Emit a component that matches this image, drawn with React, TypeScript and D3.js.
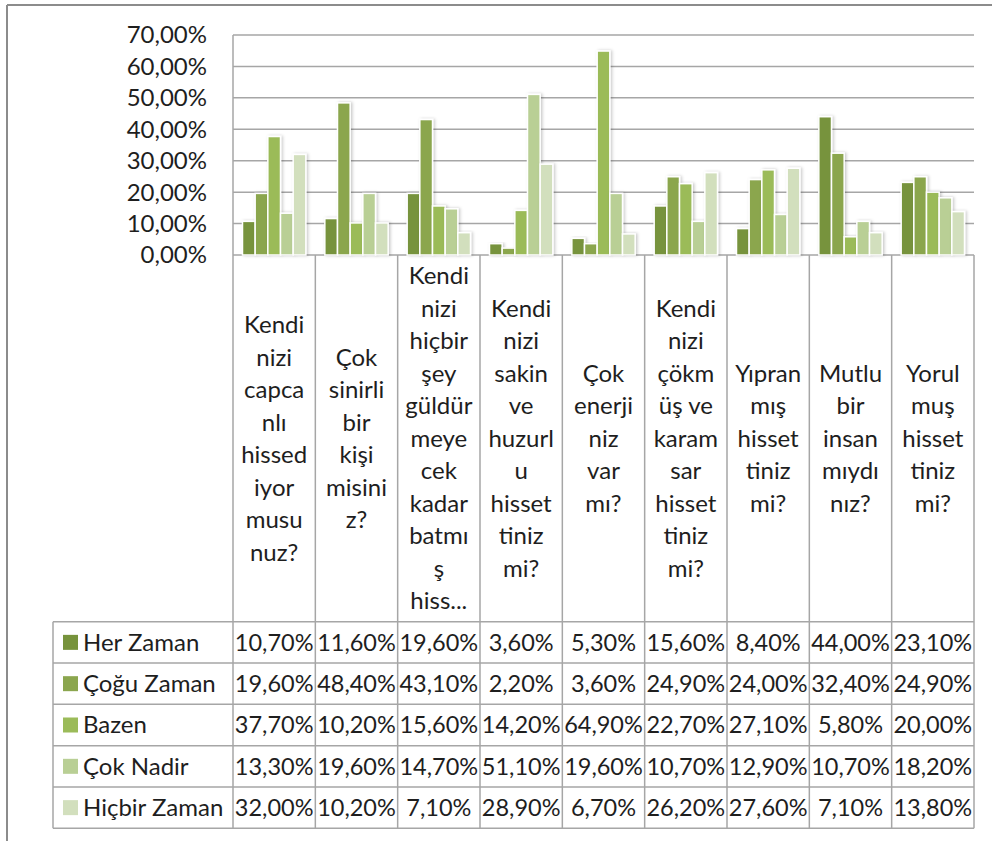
import * as d3 from 'd3';

// question texts, wrapped as in the source chart
const categoryLines: string[][] = [
  ['Kendi', 'nizi', 'capca', 'nlı', 'hissed', 'iyor', 'musu', 'nuz?'],
  ['Çok', 'sinirli', 'bir', 'kişi', 'misini', 'z?'],
  ['Kendi', 'nizi', 'hiçbir', 'şey', 'güldür', 'meye', 'cek', 'kadar', 'batmı', 'ş', 'hiss...'],
  ['Kendi', 'nizi', 'sakin', 've', 'huzurl', 'u', 'hisset', 'tiniz', 'mi?'],
  ['Çok', 'enerji', 'niz', 'var', 'mı?'],
  ['Kendi', 'nizi', 'çökm', 'üş ve', 'karam', 'sar', 'hisset', 'tiniz', 'mi?'],
  ['Yıpran', 'mış', 'hisset', 'tiniz', 'mi?'],
  ['Mutlu', 'bir', 'insan', 'mıydı', 'nız?'],
  ['Yorul', 'muş', 'hisset', 'tiniz', 'mi?'],
];

const seriesNames = ['Her Zaman', 'Çoğu Zaman', 'Bazen', 'Çok Nadir', 'Hiçbir Zaman'];
const seriesColors = ['#77933c', '#8ba64e', '#9bbb59', '#b9cf95', '#d2dfbd'];

const herZaman = [10.7, 11.6, 19.6, 3.6, 5.3, 15.6, 8.4, 44.0, 23.1];
const coguZaman = [19.6, 48.4, 43.1, 2.2, 3.6, 24.9, 24.0, 32.4, 24.9];
const bazen = [37.7, 10.2, 15.6, 14.2, 64.9, 22.7, 27.1, 5.8, 20.0];
const cokNadir = [13.3, 19.6, 14.7, 51.1, 19.6, 10.7, 12.9, 10.7, 18.2];
const hicbirZaman = [32.0, 10.2, 7.1, 28.9, 6.7, 26.2, 27.6, 7.1, 13.8];

const yTicks = [0, 10, 20, 30, 40, 50, 60, 70];

const series = [herZaman, coguZaman, bazen, cokNadir, hicbirZaman];

const W = 992;
const H = 841;
const FONT = 'Lato, Calibri, sans-serif';
const GRID = '#a6a6a6';
const TXT = '#1e1e1e';

const pct = (v: number) => v.toFixed(2).replace('.', ',') + '%';

export default function App() {
  const plotLeft = 233;
  const plotRight = 974;
  const plotTop = 35;
  const plotBottom = 255;
  const tableTop = 621.7;
  const tableBottom = 828.3;
  const tableLeft = 53;
  const rowH = (tableBottom - tableTop) / seriesNames.length;

  const cats = categoryLines.map((_, i) => String(i));
  const x = d3.scaleBand<string>().domain(cats).range([plotLeft, plotRight]);
  const xs = d3
    .scaleBand<number>()
    .domain(d3.range(seriesNames.length))
    .range([0, x.bandwidth()])
    .paddingInner(0)
    .paddingOuter(0.75);
  const y = d3.scaleLinear().domain([0, 70]).range([plotBottom, plotTop]);

  const labelMid = (plotBottom + tableTop) / 2;
  const lineH = 32.5;

  return (
    <svg
      width={W}
      height={H}
      style={{ position: 'absolute', left: 0, top: 0, background: '#fff' }}
      fontFamily={FONT}
    >
      <defs>
        <filter id="shadow" x="-50%" y="-10%" width="200%" height="130%">
          <feDropShadow dx="1.5" dy="0" stdDeviation="1.5" floodColor="#000" floodOpacity="0.22" />
        </filter>
      </defs>

      {/* outer frame (top and left edges visible) */}
      <line x1={7} x2={W} y1={5} y2={5} stroke="#8c8c8c" strokeWidth={2} />
      <line x1={7} x2={7} y1={5} y2={H} stroke="#8c8c8c" strokeWidth={2} />

      {/* gridlines */}
      {yTicks.map((t) => (
        <line key={t} x1={plotLeft} x2={plotRight} y1={y(t)} y2={y(t)} stroke={GRID} strokeWidth={1.5} />
      ))}
      <line x1={plotLeft} x2={plotLeft} y1={plotTop} y2={tableBottom} stroke={GRID} strokeWidth={1.5} />

      {/* y tick labels */}
      {yTicks.map((t) => (
        <text key={t} x={207} y={y(t)} dy="0.35em" textAnchor="end" fontSize={24} fill={TXT}>
          {pct(t)}
        </text>
      ))}

      {/* bars */}
      {series.map((vals, si) =>
        vals.map((v, ci) => (
          <rect
            key={`${si}-${ci}`}
            x={(x(String(ci)) ?? 0) + (xs(si) ?? 0)}
            y={y(v)}
            width={xs.bandwidth()}
            height={plotBottom - y(v)}
            fill={seriesColors[si]}
            stroke="#fff"
            strokeWidth={1.5}
            filter="url(#shadow)"
          />
        ))
      )}

      {/* category separators through labels and table */}
      {cats.map((c) => (
        <line
          key={c}
          x1={(x(c) ?? 0) + x.bandwidth()}
          x2={(x(c) ?? 0) + x.bandwidth()}
          y1={plotBottom}
          y2={tableBottom}
          stroke={GRID}
          strokeWidth={1.5}
        />
      ))}

      {/* category labels */}
      {categoryLines.map((lines, ci) => {
        const cx = (x(String(ci)) ?? 0) + x.bandwidth() / 2;
        const start = labelMid - ((lines.length - 1) * lineH) / 2;
        return (
          <text key={ci} textAnchor="middle" fontSize={24} fill={TXT}>
            {lines.map((ln, li) => (
              <tspan key={li} x={cx} y={start + li * lineH} dy="0.35em">
                {ln}
              </tspan>
            ))}
          </text>
        );
      })}

      {/* data table */}
      {d3.range(seriesNames.length + 1).map((r) => (
        <line
          key={r}
          x1={tableLeft}
          x2={plotRight}
          y1={tableTop + r * rowH}
          y2={tableTop + r * rowH}
          stroke={GRID}
          strokeWidth={1.5}
        />
      ))}
      <line x1={tableLeft} x2={tableLeft} y1={tableTop} y2={tableBottom} stroke={GRID} strokeWidth={1.5} />

      {seriesNames.map((name, si) => {
        const cy = tableTop + rowH * (si + 0.5);
        return (
          <g key={name}>
            <rect x={63} y={cy - 7.5} width={15} height={15} fill={seriesColors[si]} />
            <text x={83} y={cy} dy="0.35em" fontSize={24} fill={TXT}>
              {name}
            </text>
            {series[si].map((v, ci) => (
              <text
                key={ci}
                x={(x(String(ci)) ?? 0) + x.bandwidth() / 2}
                y={cy}
                dy="0.35em"
                textAnchor="middle"
                fontSize={23.5}
                fill={TXT}
              >
                {pct(v)}
              </text>
            ))}
          </g>
        );
      })}
    </svg>
  );
}
